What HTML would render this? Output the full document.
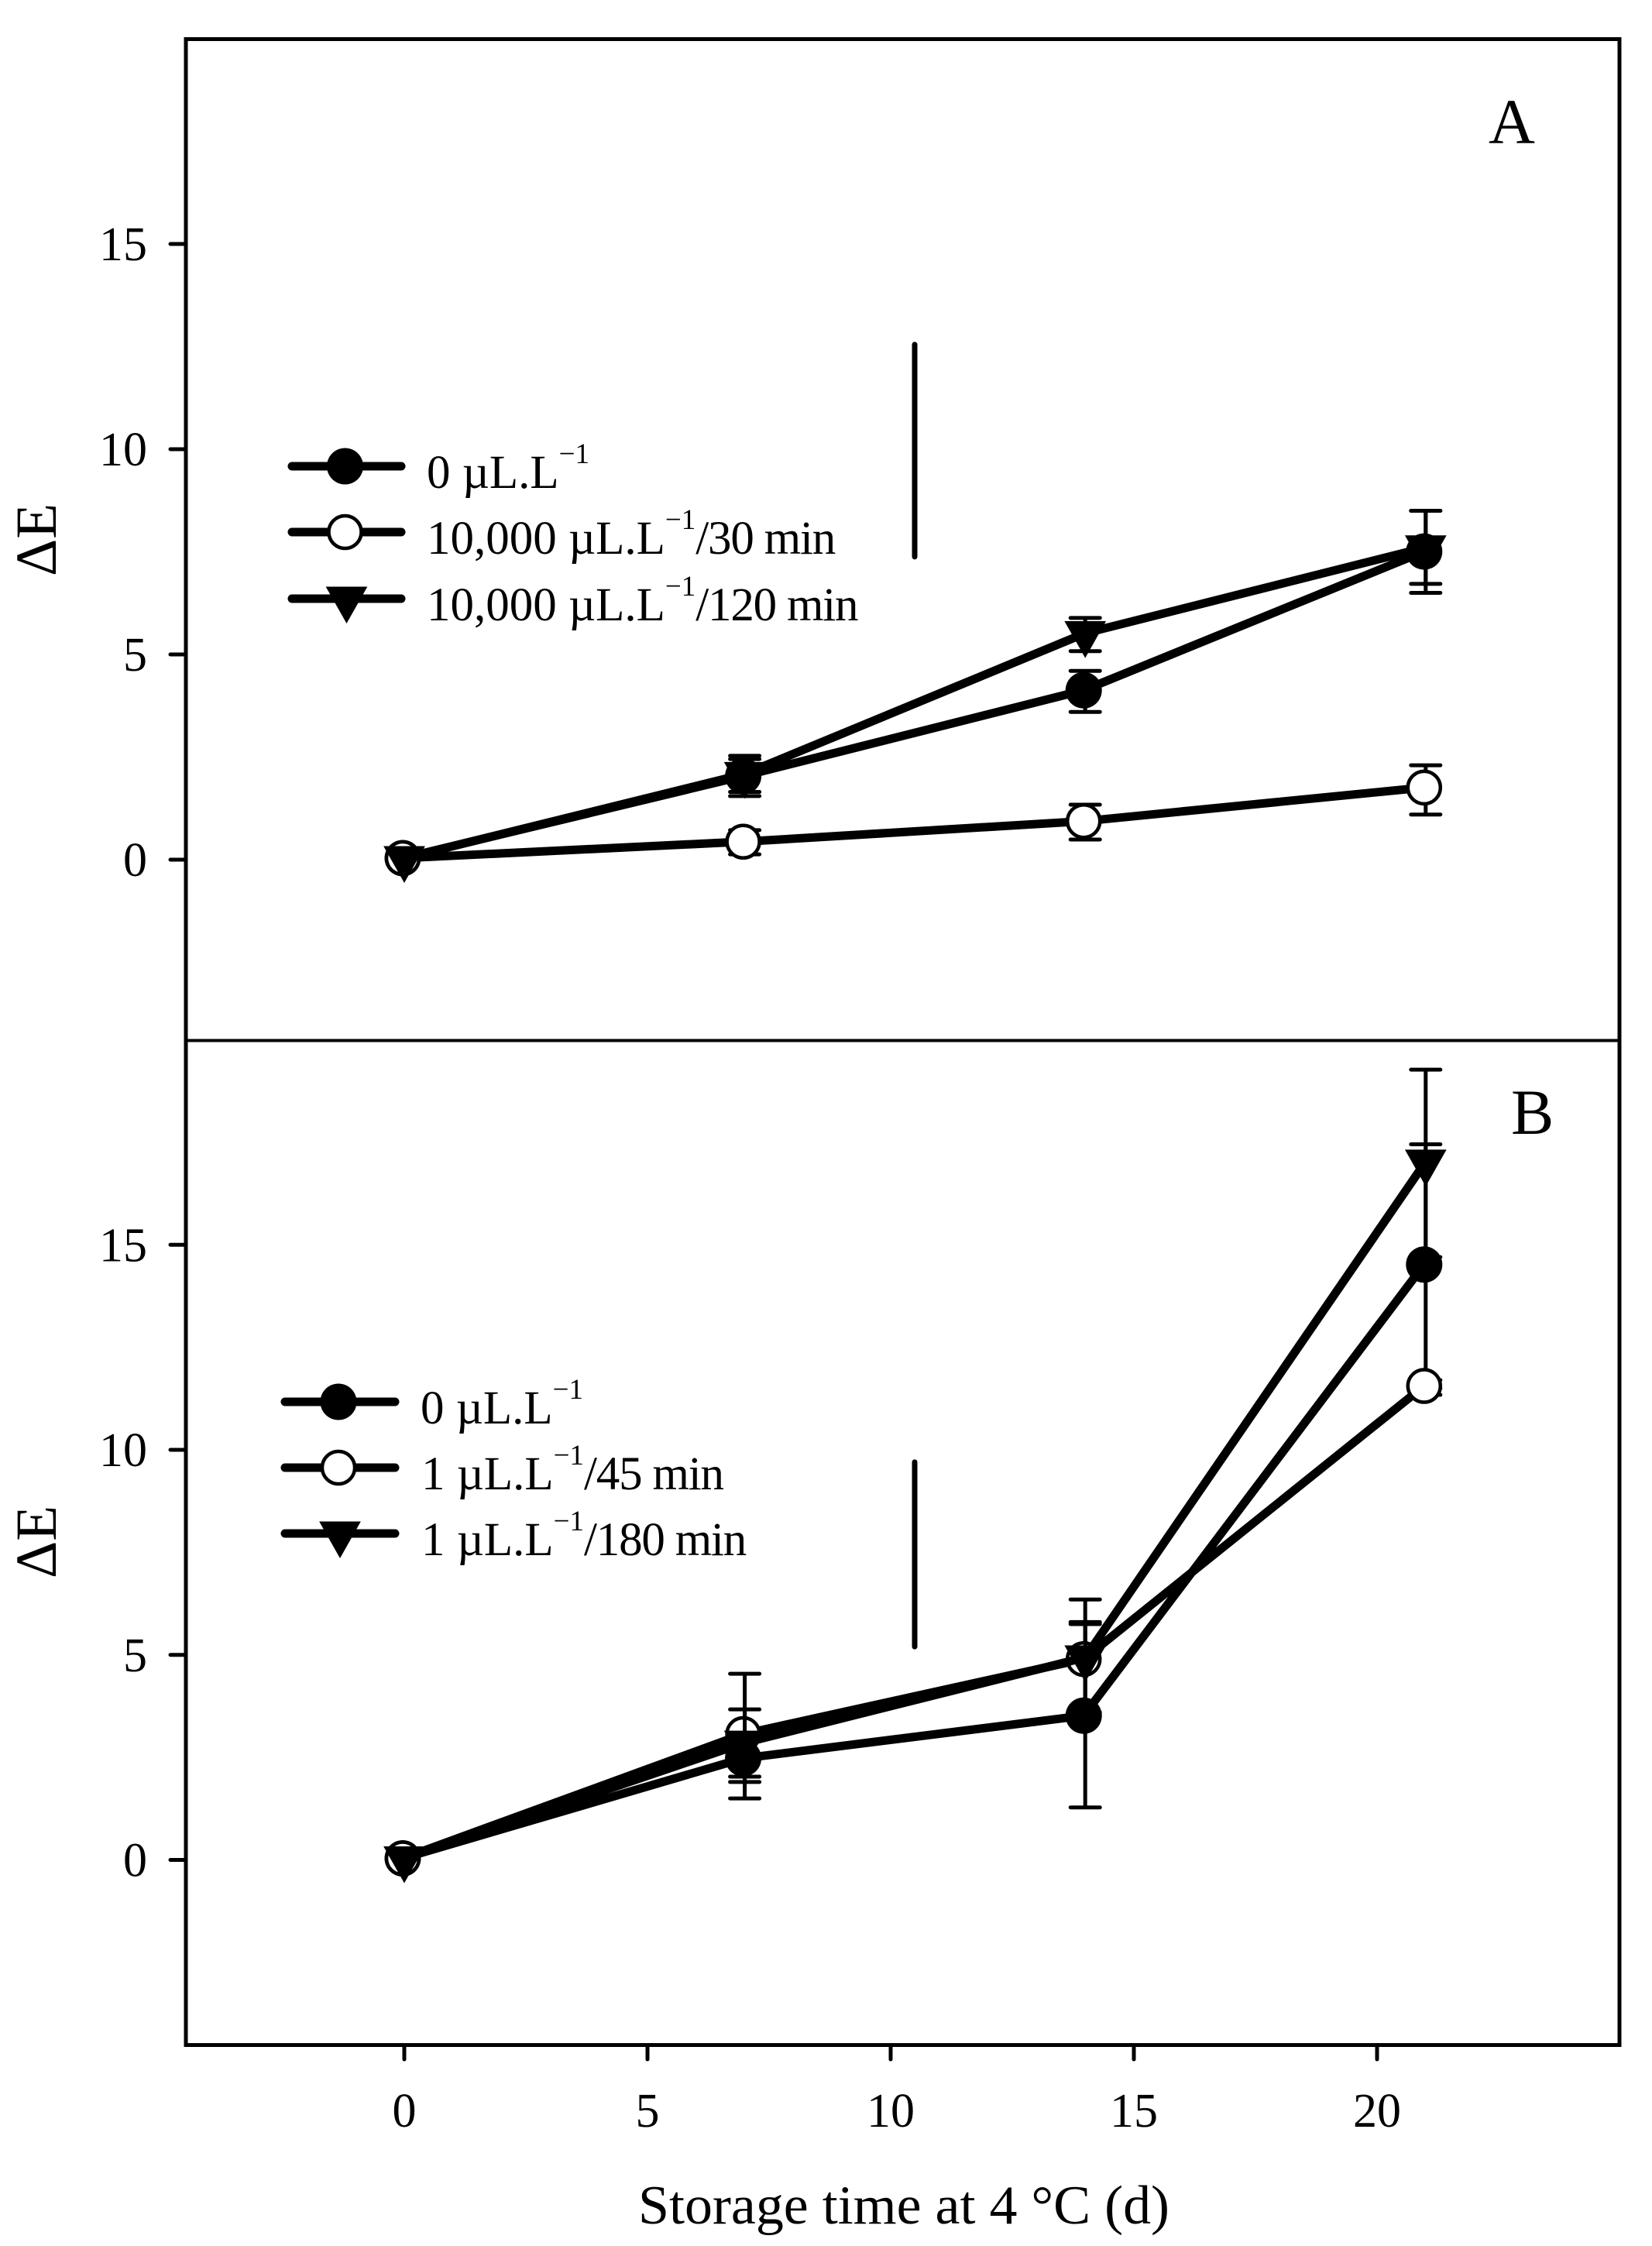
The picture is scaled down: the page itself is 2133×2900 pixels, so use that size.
<!DOCTYPE html>
<html lang="en">
<head>
<meta charset="utf-8">
<title>Storage time chart</title>
<style>
html,body{margin:0;padding:0;background:#fff;}
svg{display:block;}
text{font-family:"Liberation Serif","Times New Roman",serif;fill:#000;}
</style>
</head>
<body>
<svg id="chart" xmlns="http://www.w3.org/2000/svg" width="2133" height="2900" viewBox="0 0 2133 2900">
  <rect x="0" y="0" width="2133" height="2900" fill="#fff"/>
  <g id="panelA"></g>
  <g id="panelB"></g>
  <g id="frame">
    <rect x="240" y="50.5" width="1851" height="2590" fill="none" stroke="#000" stroke-width="5"/>
    <line x1="240" x2="2091" y1="1343.5" y2="1343.5" stroke="#000" stroke-width="4"/>
  </g>
  <g id="xaxis"></g>
  <text x="824" y="2871" font-size="71" textLength="686" lengthAdjust="spacingAndGlyphs">Storage time at 4 °C (d)</text>
  <text transform="translate(72,744) rotate(-90)" font-size="75">ΔE</text>
  <text transform="translate(72,2038) rotate(-90)" font-size="75">ΔE</text>
  <text x="1922" y="185" font-size="83">A</text>
  <text x="1951" y="1464" font-size="83">B</text>
</svg>
<script>
// ---- Shared categories and ticks ----
const days = [0, 7, 14, 21];
const xTicks = [0, 5, 10, 15, 20];
const yTicks = [0, 5, 10, 15];

// ---- Panel A values ----
const aControl = [0, 2.0, 4.09, 7.47];
const aControlHigh = [0, 2.45, 4.6, 8.5];
const aControlLow = [0, 1.55, 3.6, 6.5];
const aShort = [0, 0.4, 0.9, 1.72];
const aShortHigh = [0, 0.72, 1.34, 2.3];
const aShortLow = [0, 0.13, 0.49, 1.1];
const aLong = [0, 2.05, 5.48, 7.57];
const aLongHigh = [0, 2.53, 5.89, 8.5];
const aLongLow = [0, 1.65, 5.08, 6.72];
const aLsd = [7.38, 12.55];
const aLegendLabels = ["0 µL.L", "10,000 µL.L", "10,000 µL.L"];
const aLegendSuffixes = ["", "/30 min", "/120 min"];

// ---- Panel B values ----
const bControl = [0, 2.44, 3.48, 14.48];
const bControlHigh = [0, 2.98, 5.75, 17.45];
const bControlLow = [0, 1.9, 1.28, 11.5];
const bShort = [0, 3.03, 4.86, 11.52];
const bShortHigh = [0, 4.54, 5.8, 11.7];
const bShortLow = [0, 1.5, 3.6, 11.34];
const bLong = [0, 2.82, 4.9, 16.99];
const bLongHigh = [0, 3.67, 6.35, 19.27];
const bLongLow = [0, 2.03, 3.55, 14.7];
const bLsd = [5.2, 9.7];
const bLegendLabels = ["0 µL.L", "1 µL.L", "1 µL.L"];
const bLegendSuffixes = ["", "/45 min", "/180 min"];
const lsdDay = 10.5;

const NS = "http://www.w3.org/2000/svg";
const xScale = d => 522 + d * 62.8;
const yScaleA = v => 1110 - v * 53;
const yScaleB = v => 2401.5 - v * 52.95;

function mk(tag, parent, props) {
  const e = document.createElementNS(NS, tag);
  for (const k in props) e.setAttribute(k, props[k]);
  parent.appendChild(e);
  return e;
}

function marker(parent, kind, cx, cy) {
  if (kind === "triangle") {
    const pts = [[cx - 26, cy - 15], [cx + 26, cy - 15], [cx, cy + 31]].map(p => p.join(",")).join(" ");
    return mk("polygon", parent, { points: pts, fill: "#000", stroke: "#000", "stroke-width": 1 });
  }
  if (kind === "open") {
    return mk("circle", parent, { cx: cx - 2, cy: cy, r: 21, fill: "#fff", stroke: "#000", "stroke-width": 4.5 });
  }
  return mk("circle", parent, { cx: cx - 2, cy: cy, r: 23.5, fill: "#000" });
}

function drawSeries(parent, yScale, kind, values, high, low) {
  const g = mk("g", parent, {});
  
  
  days.forEach((d, i) => {
    if (high[i] === low[i]) return;
    const x = xScale(d);
    const stem = mk("line", g, { x1: x, x2: x, y1: yScale(high[i]), y2: yScale(low[i]), stroke: "#000", "stroke-width": 5 });
    
    
    [high[i], low[i]].forEach(v => {
      const cap = mk("line", g, { x1: x - 19, x2: x + 19, y1: yScale(v), y2: yScale(v), stroke: "#000", "stroke-width": 5, "stroke-linecap": "round" });
      
      
    });
  });
  const markerDx = kind === "triangle" ? 0 : -2;
  const pts = days.map((d, i) => (xScale(d) + markerDx) + "," + (yScale(values[i]) - 2)).join(" ");
  const line = mk("polyline", g, { points: pts, fill: "none", stroke: "#000", "stroke-width": 11, "stroke-linejoin": "round" });
  
  
  days.forEach((d, i) => {
    const m = marker(g, kind, xScale(d), yScale(values[i]) - 2);
    
    
  });
}

function drawYAxis(parent, yScale) {
  yTicks.forEach(t => {
    const y = yScale(t);
    const tick = mk("line", parent, { x1: 220, x2: 240, y1: y, y2: y, stroke: "#000", "stroke-width": 5, "stroke-linecap": "round" });
    
    
    const label = mk("text", parent, { x: 190, y: y + 21, "text-anchor": "end", "font-size": 62 });
    label.textContent = String(t);
    
    
  });
}

function drawLsd(parent, yScale, range) {
  const bar = mk("line", parent, { x1: xScale(lsdDay) - 0.4, x2: xScale(lsdDay) - 0.4, y1: yScale(range[0]), y2: yScale(range[1]), stroke: "#000", "stroke-width": 7, "stroke-linecap": "round" });
  
  
}

function drawLegend(parent, x0, x1, rowsY, labels, suffixes, textX) {
  const kinds = ["filled", "open", "triangle"];
  kinds.forEach((kind, i) => {
    const g = mk("g", parent, {});
    
    
    const y = rowsY[i];
    const ln = mk("line", g, { x1: x0, x2: x1, y1: y, y2: y, stroke: "#000", "stroke-width": 11, "stroke-linecap": "round" });
    
    
    const m = marker(g, kind, (x0 + x1) / 2, y);
    
    
    const t = mk("text", g, { x: textX[i], y: y + 28, "font-size": 61 });
    
    
    t.appendChild(document.createTextNode(labels[i]));
    const sup = mk("tspan", t, { dy: -32, "font-size": 37 });
    sup.textContent = "−1";
    const rest = mk("tspan", t, { dy: 32, "font-size": 61, "letter-spacing": -1.2 });
    rest.textContent = suffixes[i] || "\u200b";
  });
}

const gA = document.getElementById("panelA");
drawYAxis(gA, yScaleA);
drawLsd(gA, yScaleA, aLsd);
drawSeries(gA, yScaleA, "filled", aControl, aControlHigh, aControlLow);
drawSeries(gA, yScaleA, "open", aShort, aShortHigh, aShortLow);
drawSeries(gA, yScaleA, "triangle", aLong, aLongHigh, aLongLow);
drawLegend(gA, 377, 518, [602, 687, 773], aLegendLabels, aLegendSuffixes, [551, 551, 551]);

const gB = document.getElementById("panelB");
drawYAxis(gB, yScaleB);
drawLsd(gB, yScaleB, bLsd);
drawSeries(gB, yScaleB, "filled", bControl, bControlHigh, bControlLow);
drawSeries(gB, yScaleB, "open", bShort, bShortHigh, bShortLow);
drawSeries(gB, yScaleB, "triangle", bLong, bLongHigh, bLongLow);
drawLegend(gB, 368, 510, [1810, 1895, 1980], bLegendLabels, bLegendSuffixes, [543, 544, 544]);

const gX = document.getElementById("xaxis");
xTicks.forEach(t => {
  const x = xScale(t);
  const tick = mk("line", gX, { x1: x, x2: x, y1: 2641, y2: 2659, stroke: "#000", "stroke-width": 5, "stroke-linecap": "round" });
  
  
  const label = mk("text", gX, { x: x, y: 2746, "text-anchor": "middle", "font-size": 62 });
  label.textContent = String(t);
  
  
});
</script>
</body>
</html>
